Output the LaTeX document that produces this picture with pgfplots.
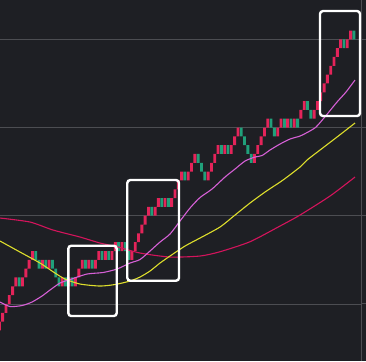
\documentclass[border=0pt]{standalone}
\usepackage{pgfplots}
\pgfplotsset{compat=1.18}
\usepackage{pgfplotstable}
\definecolor{bgcol}{RGB}{30,31,36}
\definecolor{gridcol}{RGB}{76,77,82}
\definecolor{upcol}{RGB}{228,36,90}
\definecolor{dncol}{RGB}{32,160,122}
\definecolor{macol}{RGB}{214,96,214}
\definecolor{yecol}{RGB}{222,222,44}
\definecolor{crcol}{RGB}{212,20,92}

% renko bricks: column, bottom level, up brick, down brick
\pgfplotstableread{
n lo up dn
0 7 1 0
1 8 1 0
2 9 1 0
3 10 1 0
4 11 1 0
5 12 1 0
6 12 0 1
7 12 1 0
8 13 1 0
9 14 1 0
10 15 1 0
11 15 0 1
12 14 0 1
13 14 1 0
14 14 0 1
15 14 1 0
16 14 0 1
17 13 0 1
18 12 0 1
19 12 1 0
20 12 0 1
21 12 1 0
22 12 0 1
23 12 1 0
24 13 1 0
25 14 1 0
26 14 0 1
27 14 1 0
28 14 0 1
29 14 1 0
30 15 1 0
31 15 0 1
32 15 1 0
33 15 0 1
34 15 1 0
35 16 1 0
36 16 0 1
37 16 1 0
38 16 0 1
39 15 0 1
40 15 1 0
41 16 1 0
42 17 1 0
43 18 1 0
44 19 1 0
45 20 1 0
46 20 0 1
47 20 1 0
48 21 1 0
49 21 0 1
50 21 1 0
51 21 0 1
52 21 1 0
53 22 1 0
54 23 1 0
55 24 1 0
56 24 0 1
57 24 1 0
58 25 1 0
59 26 1 0
60 26 0 1
61 25 0 1
62 24 0 1
63 24 1 0
64 25 1 0
65 26 1 0
66 27 1 0
67 27 0 1
68 27 1 0
69 27 0 1
70 27 1 0
71 28 1 0
72 29 1 0
73 29 0 1
74 28 0 1
75 27 0 1
76 26 0 1
77 26 1 0
78 27 1 0
79 28 1 0
80 29 1 0
81 30 1 0
82 30 0 1
83 29 0 1
84 29 1 0
85 30 1 0
86 30 0 1
87 30 1 0
88 30 0 1
89 30 1 0
90 30 0 1
91 31 1 0
92 32 1 0
93 32 0 1
94 31 0 1
95 31 1 0
96 32 1 0
97 33 1 0
98 34 1 0
99 35 1 0
100 36 1 0
101 37 1 0
102 38 1 0
103 39 1 0
104 39 0 1
105 39 1 0
106 40 1 0
107 40 0 1
}\bricks

\begin{document}
\begin{tikzpicture}
\fill[bgcol] (0,0) rectangle (366pt,361pt);
\begin{axis}[
  at={(0,0)}, anchor=south west,
  width=361pt, height=361pt, scale only axis,
  xmin=0.196, xmax=109.14, ymin=3.53, ymax=44.46,
  axis background/.style={fill=bgcol},
  axis x line=none,
  axis y line*=right,
  y axis line style={draw=gridcol, line width=1pt},
  xtick=\empty,
  ytick={10,20,30,40}, yticklabels={},
  tick align=outside, major tick length=5pt,
  ytick style={draw=gridcol, line width=1pt},
  ymajorgrids=true,
  grid style={draw=gridcol, line width=0.8pt},
  ybar stacked, bar width=0.86,
  clip=true,
]
\addplot[draw=none, fill=none] table[x=n, y=lo] {\bricks};
\addplot[draw=none, fill=upcol] table[x=n, y=up] {\bricks};
\addplot[draw=none, fill=dncol] table[x=n, y=dn] {\bricks};
\end{axis}
\begin{axis}[
  at={(0,0)}, anchor=south west,
  width=361pt, height=361pt, scale only axis,
  xmin=0.196, xmax=109.14, ymin=3.53, ymax=44.46,
  hide axis, clip=true,
]
% crimson moving average
\addplot[crcol, line width=1.1pt, smooth, tension=0.4] coordinates {
(0.196,19.739) (9.25,19.286) (16.19,18.379) (24.34,17.585) (30.376,16.905)
(35.507,16.485) (42.448,15.771) (51.502,15.317) (60.556,15.431) (66.592,15.918)
(75.646,17.052) (84.70,18.832) (90.735,20.079) (99.789,22.234) (107.334,24.388)};
% yellow moving average
\addplot[yecol, line width=1.1pt, smooth, tension=0.4] coordinates {
(0.196,17.132) (6.232,15.884) (12.268,14.637) (16.795,13.503) (19.813,12.823)
(24.34,12.256) (30.376,12.029) (34.904,12.2) (39.43,12.596) (42.448,13.05)
(45.466,13.73) (48.484,14.637) (51.502,15.431) (56.03,16.565) (60.556,17.472)
(66.592,18.719) (71.119,20.079) (75.646,21.44) (80.173,22.687) (85.605,24.048)
(90.735,25.522) (92.848,26.315) (96.771,27.449) (101.901,28.923) (107.334,30.51)};
% magenta moving average
\addplot[macol, line width=1.1pt, smooth, tension=0.4] coordinates {
(0.196,10.215) (3.214,9.705) (6.836,9.819) (9.854,10.215) (12.872,10.896)
(15.286,11.576) (18.304,12.37) (21.322,12.766) (26.452,13.39) (31.282,13.56)
(35.507,13.957) (39.43,14.637) (42.448,15.034) (45.466,15.998) (48.484,17.018)
(51.502,17.925) (54.52,19.399) (57.538,20.873) (60.556,22.063) (64.177,23.027)
(68.101,24.388) (71.119,25.295) (74.137,26.202) (77.155,26.655) (79.268,26.825)
(81.682,27.449) (84.70,28.129) (87.717,28.696) (90.735,29.036) (93.149,29.49)
(95.564,30.057) (98.582,31.361) (101.901,32.891) (104.617,34.025) (107.334,35.385)};

% highlight boxes
\draw[white, line width=2.4pt, rounded corners=3pt] (axis cs:20.81,8.628) rectangle (axis cs:35.42,16.599);
\draw[white, line width=2.4pt, rounded corners=3pt] (axis cs:38.61,12.63) rectangle (axis cs:54.22,24.048);
\draw[white, line width=2.4pt, rounded corners=3pt] (axis cs:96.77,31.304) rectangle (axis cs:108.84,43.209);
\end{axis}
\pgfresetboundingbox
\useasboundingbox (0,0) rectangle (366pt,361pt);
\end{tikzpicture}
\end{document}
